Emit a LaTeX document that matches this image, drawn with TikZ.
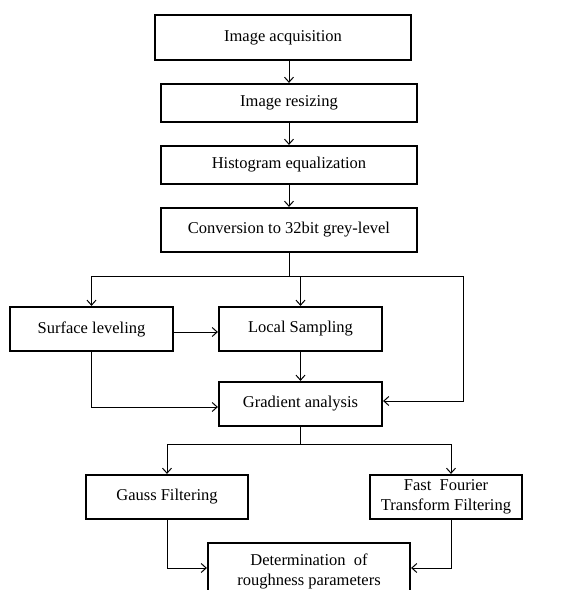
\documentclass[tikz,border=0pt]{standalone}
\usepackage{fontspec}
\setmainfont{Liberation Serif}
\usetikzlibrary{arrows.meta,calc}
\begin{document}
\begin{tikzpicture}[x=1pt,y=-1pt,
  box/.style={draw,line width=2.2pt,minimum width=#1,inner sep=0pt,align=center,
    font=\fontsize{16.5}{20}\selectfont},
  conn/.style={line width=1pt},
  arr/.style={line width=1pt,-{Straight Barb[length=5pt,width=9pt]}}]
\useasboundingbox (0,0) rectangle (587,590);
\clip (0,0) rectangle (587,590);
\node[box=256pt,minimum height=45pt] (b1) at (283,37.5) {Image acquisition};
\node[box=256pt,minimum height=38pt] (b2) at (289,103) {Image resizing};
\node[box=256pt,minimum height=38pt] (b3) at (289,165) {Histogram equalization};
\node[box=256pt,minimum height=44pt] (b4) at (289,230) {Conversion to 32bit grey-level};
\node[box=163pt,minimum height=44pt] (sl) at (91.5,329) {Surface leveling};
\node[box=163pt,minimum height=44pt] (ls) at (300.5,329) {Local Sampling};
\node[box=163pt,minimum height=44pt] (ga) at (300.5,404) {Gradient analysis};
\node[box=162pt,minimum height=44pt] (gf) at (167,497) {Gauss Filtering};
\node[box=152pt,minimum height=44pt] (fft) at (446,497) {Fast\ \ Fourier\\Transform Filtering};
\node[box=202pt,minimum height=56pt] (det) at (309,571) {Determination\ \ of\\roughness parameters};
\coordinate (s1) at (289,276);
\coordinate (r1) at (463,401);
\coordinate (s2) at (300.5,444);
\draw[arr] (b2.north |- b1.south) -- (b2.north);
\draw[arr] (b2.south) -- (b3.north);
\draw[arr] (b3.south) -- (b4.north);
\draw[conn] (b4.south) -- (s1);
\draw[arr] (s1) -| (sl.north);
\draw[arr] (s1) -| (ls.north);
\draw[arr] (s1) -| (r1) -- (ga.east |- r1);
\draw[arr] ([yshift=-3pt]sl.east) -- ([yshift=-3pt]ls.west);
\draw[arr] (sl.south) |- ([yshift=-3pt]ga.west);
\draw[arr] (ls.south) -- (ga.north);
\draw[conn] (ga.south) -- (s2);
\draw[arr] (s2) -| (gf.north);
\draw[arr] (s2) -| ([xshift=5pt]fft.north);
\draw[arr] (gf.south) |- ([yshift=3pt]det.west);
\draw[arr] ([xshift=5pt]fft.south) |- ([yshift=3pt]det.east);
\end{tikzpicture}
\end{document}
